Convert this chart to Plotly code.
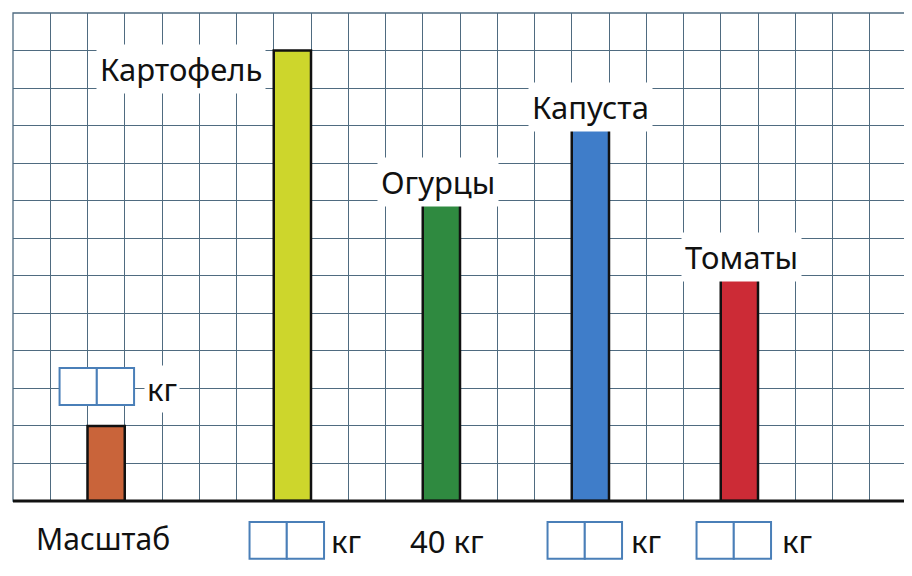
import plotly.graph_objects as go

# chart data (kg); one grid cell = 5 kg
categories = ["Масштаб", "Картофель", "Огурцы", "Капуста", "Томаты"]
values = [10, 60, 40, 50, 30]
columns = [2.5, 7.5, 11.5, 15.5, 19.5]
bar_colors = ["#c9643a", "#cdd62c", "#2f8a40", "#3f7dc9", "#cc2b36"]
bottom_texts = ["кг", "40 кг", "кг", "кг"]

N_COLS = 24
N_ROWS = 13
CELL = 5
GRID = "#4f6b80"
BOX = "#4a7fb8"
FONT = "Noto Sans"
TEXT = dict(family=FONT, size=31, color="#111111")


def px(col):
    return col / N_COLS


def py(kg):
    return kg / (N_ROWS * CELL)


fig = go.Figure(
    go.Bar(
        x=columns,
        y=values,
        width=1,
        marker=dict(color=bar_colors, line=dict(color="#111111", width=2.5)),
        hoverinfo="skip",
    )
)

# bar labels (Масштаб is written under the axis)
label_offsets = {1: (-3.0, -2.5), 2: (-0.1, 2.5), 3: (0.0, 2.5), 4: (0.05, 2.5)}
for i, (dx, dy) in label_offsets.items():
    fig.add_annotation(
        x=columns[i] + dx, y=values[i] + dy, text=categories[i], showarrow=False,
        xanchor="center", yanchor="middle", font=TEXT, bgcolor="white", borderpad=3,
    )

shapes = [
    dict(type="rect", xref="paper", yref="paper", x0=0, x1=1, y0=0, y1=1,
         line=dict(color=GRID, width=1.3), layer="above"),
    dict(type="line", xref="paper", yref="paper", x0=0, x1=1, y0=0, y1=0,
         line=dict(color="#111111", width=3), layer="above"),
]


# two-cell answer boxes
def answer_box(c0, y0, y1):
    out = []
    for k in range(2):
        out.append(dict(type="rect", xref="paper", yref="paper",
                        x0=px(c0 + k), x1=px(c0 + k + 1), y0=py(y0), y1=py(y1),
                        line=dict(color=BOX, width=2), fillcolor="white", layer="above"))
    return out


shapes += answer_box(1.25, 12.8, 17.7)
for c in [6.35, 14.35, 18.35]:
    shapes += answer_box(c, -2.8, -7.7)

fig.add_annotation(x=px(4.0), y=py(14.9), xref="paper", yref="paper", text="кг", showarrow=False,
                   xanchor="center", yanchor="middle", font=TEXT, bgcolor="white", borderpad=2)
fig.add_annotation(x=px(2.42), y=py(-5.0), xref="paper", yref="paper", text=categories[0], showarrow=False,
                   xanchor="center", yanchor="middle", font=dict(TEXT, size=30))
for c, t in zip([8.95, 11.65, 17.0, 21.05], bottom_texts):
    fig.add_annotation(x=px(c), y=py(-5.3), xref="paper", yref="paper", text=t, showarrow=False,
                       xanchor="center", yanchor="middle", font=TEXT)

fig.update_layout(
    width=904, height=568,
    margin=dict(l=5, r=5, t=5, b=75),
    paper_bgcolor="white", plot_bgcolor="white",
    showlegend=False, shapes=shapes,
)
fig.update_xaxes(range=[0, N_COLS], dtick=1, tick0=0, showgrid=True, gridcolor=GRID, gridwidth=1.3,
                 showticklabels=False, ticks="", zeroline=False, fixedrange=True)
fig.update_yaxes(range=[0, N_ROWS * CELL], dtick=CELL, tick0=0, showgrid=True, gridcolor=GRID, gridwidth=1.3,
                 showticklabels=False, ticks="", zeroline=False, fixedrange=True)

fig.write_html("out.html", config={"displayModeBar": False})
